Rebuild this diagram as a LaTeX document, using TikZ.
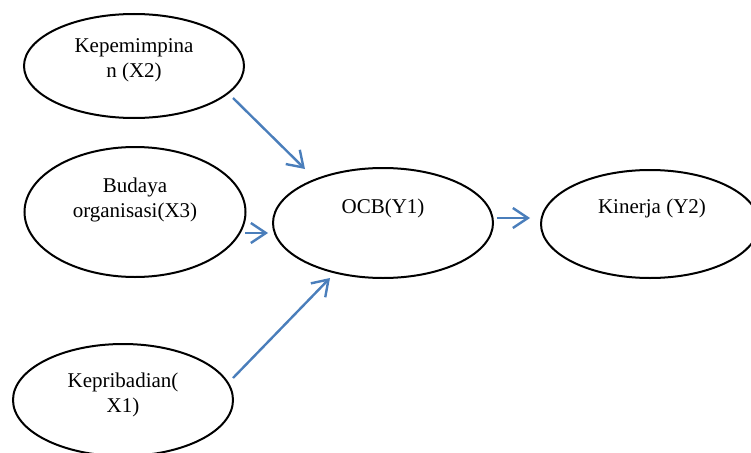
\documentclass[tikz,border=0pt]{standalone}
\usepackage{fontspec}
\setmainfont{Liberation Serif}
\usetikzlibrary{arrows.meta,shapes.geometric}
\definecolor{arrowblue}{HTML}{4A7EBB}
\tikzset{
  oval/.style={draw=black, line width=2pt, ellipse, inner sep=0pt, minimum width=#1},
  lbl/.style={font=\fontsize{21}{25}\selectfont, align=center, inner sep=0pt},
  link/.style={draw=arrowblue, line width=2.4pt, -{Straight Barb[length=15pt,width=20pt,line width=2.4pt]}}
}
\begin{document}
\begin{tikzpicture}[x=1pt,y=-1pt]
\useasboundingbox (0,0) rectangle (751,452);
\node[oval=220pt, minimum height=104pt] (x2) at (134,66) {};
\node[oval=221pt, minimum height=130pt] (x3) at (135,212) {};
\node[oval=220pt, minimum height=112pt] (x1) at (123,400) {};
\node[oval=220pt, minimum height=110pt] (y1) at (383,223) {};
\node[oval=218pt, minimum height=108pt] (y2) at (650,224) {};
\node[lbl] (tx2) at (134,60) {Kepemimpina\\n (X2)};
\node[lbl] (tx3) at (135,200) {Budaya\\organisasi(X3)};
\node[lbl] (tx1) at (123,395) {Kepribadian(\\X1)};
\node[lbl] (ty1) at (383,208) {OCB(Y1)};
\node[lbl] (ty2) at (652,208) {Kinerja (Y2)};
\coordinate (a1s) at (233,98);
\coordinate (a1e) at (305,169);
\coordinate (a2s) at (245,233);
\coordinate (a2e) at (268,233);
\coordinate (a3s) at (233,378);
\coordinate (a3e) at (330,278);
\coordinate (a4s) at (497,218);
\coordinate (a4e) at (530,218);
\draw[link] (a1s) -- (a1e);
\draw[link] (a2s) -- (a2e);
\draw[link] (a3s) -- (a3e);
\draw[link] (a4s) -- (a4e);
\end{tikzpicture}
\end{document}
